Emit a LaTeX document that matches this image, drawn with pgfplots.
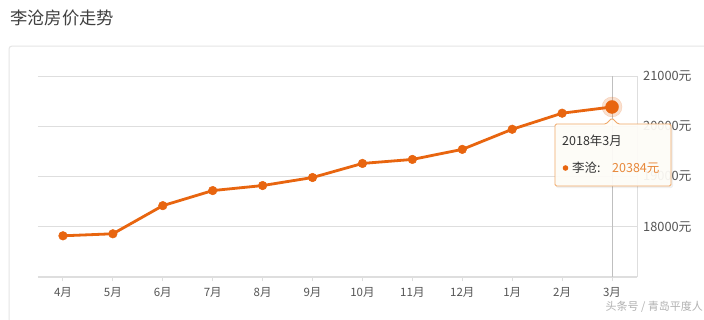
\documentclass[border=0pt]{standalone}
\usepackage{fontspec}
\setmainfont{Noto Sans CJK SC}
\usepackage{pgfplots}
\pgfplotsset{compat=1.18}
\definecolor{lc}{HTML}{E8650F}
\definecolor{gridc}{HTML}{DEDEDE}
\definecolor{txt}{HTML}{555555}
\definecolor{tipb}{HTML}{F0A868}
\definecolor{tipf}{HTML}{FFFDF8}
\definecolor{tipv}{HTML}{E8883A}
\begin{document}
\begin{tikzpicture}[x=1pt,y=1pt]
\useasboundingbox (0,0) rectangle (704,-319);
\fill[white] (0,0) rectangle (704,-319);
\node[anchor=west, font=\fontsize{17.3}{18}\selectfont, text=black!75, inner sep=0] at (10,-18) {李沧房价走势};
\draw[color=black!10, line width=1pt, rounded corners=3pt] (9,-330) -- (9,-46) -- (720,-46);
\begin{axis}[
  at={(38pt,-277pt)}, anchor=south west,
  scale only axis, width=599pt, height=201pt,
  xmin=-0.5, xmax=11.5, ymin=17000, ymax=21000,
  axis x line*=bottom, axis y line*=right,
  x axis line style={draw=gridc, line width=2pt, -},
  y axis line style={draw=gridc, line width=0.8pt, -},
  xtick={0,...,11},
  xticklabels={4月,5月,6月,7月,8月,9月,10月,11月,12月,1月,2月,3月},
  ytick={18000,19000,20000,21000},
  scaled y ticks=false,
  yticklabel={\pgfmathprintnumber[fixed,1000 sep={}]{\tick}元},
  /pgf/number format/assume math mode=true,
  ymajorgrids, major grid style={draw=gridc, line width=0.8pt},
  tick align=outside, major tick length=4pt,
  xtick style={draw=gridc, line width=1pt},
  ytick style={draw=none},
  ticklabel style={font=\fontsize{11.5}{12}\selectfont, text=txt},
  xticklabel style={yshift=-3pt},
  yticklabel style={anchor=west, inner sep=0pt, xshift=2pt, font=\fontsize{12.8}{13}\selectfont},
  clip=false,
]
\draw[black!25, line width=0.8pt] (axis cs:11,17000) -- (axis cs:11,21000);
\addplot[lc, line width=2.8pt, mark=*, mark size=4.3pt, mark options={fill=lc, line width=0.5pt}] coordinates {
(0,17820) (1,17860) (2,18420) (3,18720) (4,18820) (5,18980)
(6,19260) (7,19340) (8,19540) (9,19940) (10,20260) (11,20384)};
\addplot[only marks, mark=*, mark size=10pt, color=lc, opacity=0.2, mark options={draw=none}] coordinates {(11,20384)};
\addplot[only marks, mark=*, mark size=6.5pt, color=lc, mark options={draw=lc, fill=lc}] coordinates {(11,20384)};
\end{axis}
\fill[black, opacity=0.06, rounded corners=2pt] (556,-126) rectangle (673,-188);
\draw[draw=tipb, fill=tipf, fill opacity=0.93, line width=0.9pt, rounded corners=1.5pt]
  (555,-124) -- (606,-124) -- (612,-118) -- (618,-124) -- (671,-124) -- (671,-186) -- (555,-186) -- cycle;
\node[anchor=west, inner sep=0, font=\fontsize{12.5}{13}\selectfont, text=black!80] at (562,-141) {2018年3月};
\fill[lc] (565.5,-168) circle (2.8);
\node[anchor=west, inner sep=0, font=\fontsize{12.5}{13}\selectfont, text=black!80] at (572,-168) {李沧:};
\node[anchor=west, inner sep=0, font=\fontsize{12.5}{13}\selectfont, text=tipv] at (612,-168) {20384元};
\node[anchor=east, inner sep=0, font=\fontsize{11}{11}\selectfont, text=black!30] at (703,-307) {头条号 / 青岛平度人};
\end{tikzpicture}
\end{document}
